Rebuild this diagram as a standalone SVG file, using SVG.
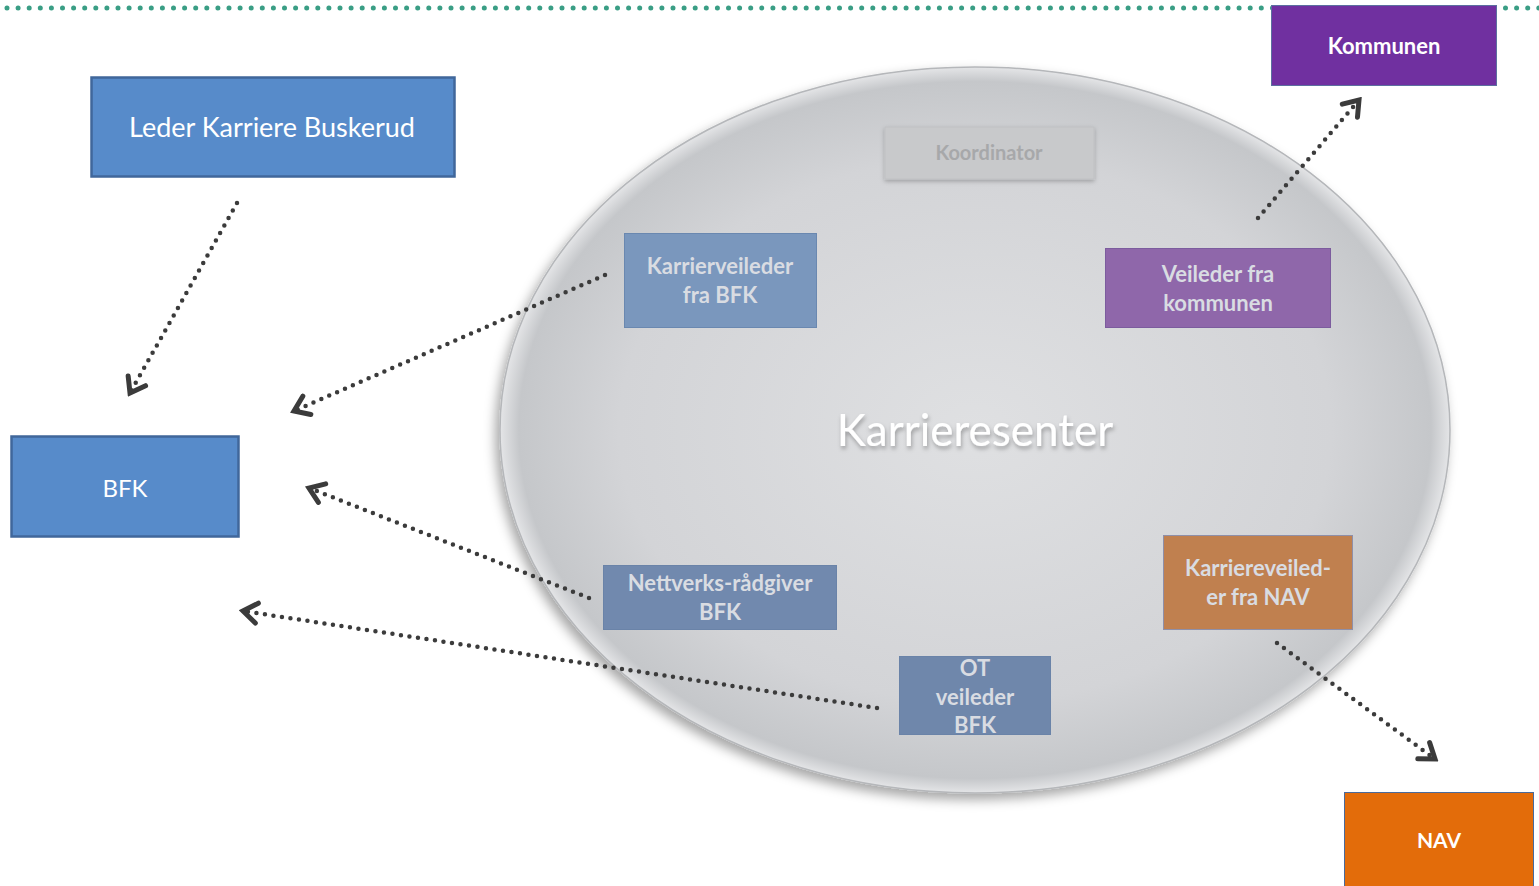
<svg xmlns="http://www.w3.org/2000/svg" width="1539" height="886" viewBox="0 0 1539 886">
<style>
  .lbl { font-family: Lato, "Open Sans", "Liberation Sans", sans-serif; text-anchor: middle; }
  .outer { fill: #ffffff; font-size: 24px; }
  .outerb { fill: #ffffff; font-size: 22px; font-weight: bold; }
  .inner { fill: #d9dce2; font-size: 22px; font-weight: bold; }
  .conn { fill: none; stroke: #3b3b3b; stroke-width: 4.5; stroke-linecap: round; stroke-dasharray: 0 8.6; }
</style>
<defs>
  <radialGradient id="ellG" cx="0.5" cy="0.5" r="0.5">
    <stop offset="0" stop-color="#dfe0e2"/>
    <stop offset="0.75" stop-color="#d3d4d7"/>
    <stop offset="0.96" stop-color="#c5c7ca"/>
    <stop offset="1" stop-color="#e4e5e7"/>
  </radialGradient>
  <filter id="shadow" x="-10%" y="-10%" width="125%" height="125%">
    <feDropShadow dx="-4" dy="6" stdDeviation="6" flood-color="#000" flood-opacity="0.35"/>
  </filter>
  <filter id="bshadow" x="-10%" y="-20%" width="125%" height="150%">
    <feDropShadow dx="0" dy="2" stdDeviation="2" flood-color="#000" flood-opacity="0.25"/>
  </filter>
  <filter id="tshadow" x="-10%" y="-30%" width="125%" height="170%">
    <feDropShadow dx="1" dy="3" stdDeviation="2" flood-color="#000" flood-opacity="0.3"/>
  </filter>
  <marker id="chev" viewBox="-18 -13 22 26" markerWidth="22" markerHeight="26" refX="0" refY="0" orient="auto" markerUnits="userSpaceOnUse">
    <path d="M-14,-10 L0,0 L-14,10" fill="none" stroke="#3b3b3b" stroke-width="5" stroke-linecap="round" stroke-linejoin="miter"/>
  </marker>
</defs>

<rect width="1539" height="886" fill="#ffffff"/>

<!-- top dotted line -->
<line x1="7" y1="8" x2="1539" y2="8" stroke="#3a9e85" stroke-width="5" stroke-linecap="round" stroke-dasharray="0 11.1"/>

<!-- Karrieresenter ellipse -->
<g id="karrieresenter">
  <ellipse cx="975" cy="430" rx="475" ry="363" fill="url(#ellG)" stroke="#b5b7ba" stroke-width="1.5" filter="url(#shadow)"/>
  <text class="lbl" x="975" y="446" font-size="44" fill="#ffffff" filter="url(#tshadow)">Karrieresenter</text>
</g>

<g id="leder">
  <rect x="91.5" y="77.5" width="363" height="99" fill="#578bca" stroke="#40679b" stroke-width="2.5"/>
  <text class="lbl outer" x="272" y="137" style="font-size:27px">Leder Karriere Buskerud</text>
</g>

<g id="bfk">
  <rect x="11.5" y="436.5" width="227" height="100" fill="#578bca" stroke="#40679b" stroke-width="2.5"/>
  <text class="lbl outer" x="125" y="497">BFK</text>
</g>

<g id="kommunen">
  <rect x="1271.5" y="5.5" width="225" height="80" fill="#7030a0" stroke="#5c6fa0" stroke-width="1"/>
  <text class="lbl outerb" x="1384" y="54">Kommunen</text>
</g>

<g id="nav">
  <rect x="1344.5" y="792.5" width="189" height="100" fill="#e36c0a" stroke="#4a6a9a" stroke-width="1"/>
  <text class="lbl outerb" x="1439" y="848" style="font-size:21px">NAV</text>
</g>

<g id="koordinator">
  <rect x="885" y="127" width="209" height="52" fill="#c8c9cb" stroke="#c0c1c3" stroke-width="1" filter="url(#bshadow)"/>
  <text class="lbl" x="989" y="160" font-size="20" font-weight="bold" fill="#a7a8aa">Koordinator</text>
</g>

<g id="karrierveileder-bfk">
  <rect x="624.5" y="233.5" width="192" height="94" fill="#7a97bd" stroke="#6a88b0" stroke-width="1"/>
  <text class="lbl inner" x="720" y="274">Karrierveileder</text>
  <text class="lbl inner" x="720" y="303">fra BFK</text>
</g>

<g id="veileder-kommunen">
  <rect x="1105.5" y="248.5" width="225" height="79" fill="#8f67aa" stroke="#7c5c9e" stroke-width="1"/>
  <text class="lbl inner" x="1218" y="282">Veileder fra</text>
  <text class="lbl inner" x="1218" y="311">kommunen</text>
</g>

<g id="nettverk">
  <rect x="603.5" y="565.5" width="233" height="64" fill="#7189ae" stroke="#6a83a8" stroke-width="1"/>
  <text class="lbl inner" x="720" y="591">Nettverks-rådgiver</text>
  <text class="lbl inner" x="720" y="620">BFK</text>
</g>

<g id="ot">
  <rect x="899.5" y="656.5" width="151" height="78" fill="#6f87ab" stroke="#6a83a8" stroke-width="1"/>
  <text class="lbl inner" x="975" y="676">OT</text>
  <text class="lbl inner" x="975" y="705">veileder</text>
  <text class="lbl inner" x="975" y="733">BFK</text>
</g>

<g id="karriereveileder-nav">
  <rect x="1163.5" y="535.5" width="189" height="94" fill="#c0804f" stroke="#8f8fa8" stroke-width="1"/>
  <text class="lbl inner" x="1258" y="576">Karriereveiled-</text>
  <text class="lbl inner" x="1258" y="605">er fra NAV</text>
</g>

<!-- connectors -->
<g id="connectors">
  <path class="conn" d="M237,203 L130,393" marker-end="url(#chev)"/>
  <path class="conn" d="M605,275 L294,411" marker-end="url(#chev)"/>
  <path class="conn" d="M589,598 L309,488" marker-end="url(#chev)"/>
  <path class="conn" d="M877,708 L243,611" marker-end="url(#chev)"/>
  <path class="conn" d="M1258,218 L1359,100" marker-end="url(#chev)"/>
  <path class="conn" d="M1277,643 L1435,759" marker-end="url(#chev)"/>
</g>
</svg>
